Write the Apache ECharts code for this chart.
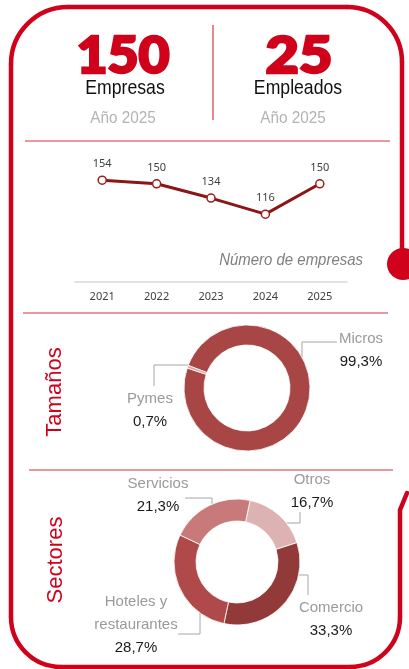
<!DOCTYPE html>
<html>
<head>
<meta charset="utf-8">
<script src="https://cdn.jsdelivr.net/npm/echarts@6/dist/echarts.min.js"></script>
<style>
  html, body { margin: 0; padding: 0; background: #fff; }
  #main { width: 409px; height: 669px; }
</style>
</head>
<body>
<div id="main"></div>
<script>
// KPI header
const kpiValues = ['150', '25'];
const kpiLabels = ['Empresas', 'Empleados'];
const kpiYear = 'Año 2025';

// line chart: number of companies per year
const years = ['2021', '2022', '2023', '2024', '2025'];
const empresas = [154, 150, 134, 116, 150];

// company size donut
const tamanoNames = ['Micros', 'Pymes'];
const tamanoValues = [99.3, 0.7];

// sector donut
const sectorNames = ['Otros', 'Comercio', 'Hoteles y\nrestaurantes', 'Servicios'];
const sectorValues = [16.7, 33.3, 28.7, 21.3];

const RED = '#d0021b';
const SEP = '#e2737e';
const SANS = '"Liberation Sans", Arial, sans-serif';
const HEAVY = '900 51px Lato, "DejaVu Sans", sans-serif';

const pct = v => v.toFixed(1).replace('.', ',') + '%';

// where each donut label sits, and its leader line
const labelSpots = {
  'Micros': { x: 361, y: 350, line: [[302, 357], [302, 342], [337, 342]] },
  'Pymes': { x: 150, y: 410, line: [[188, 365], [154, 365], [154, 386]] },
  'Servicios': { x: 158, y: 495, line: [[212, 504], [212, 498], [185, 498]] },
  'Otros': { x: 312, y: 491, line: [[286, 523], [300, 523], [300, 512]] },
  'Comercio': { x: 331, y: 619, line: [[299, 575], [308, 575], [308, 595]] },
  'Hoteles y\nrestaurantes': { x: 136, y: 625, line: [[200, 613], [200, 634], [178, 634]] }
};

function placeLabel(params) {
  const name = params.seriesIndex === 1 ? tamanoNames[params.dataIndex] : sectorNames[params.dataIndex];
  const s = labelSpots[name];
  return { x: s.x, y: s.y, align: 'center', verticalAlign: 'middle', labelLinePoints: s.line };
}

const pieLabel = {
  show: true,
  position: 'outside',
  formatter: p => '{n|' + p.name + '}\n{v|' + pct(p.value) + '}',
  rich: {
    n: { color: '#9a9a9a', fontSize: 15, fontFamily: SANS, lineHeight: 23, align: 'center' },
    v: { color: '#1a1a1a', fontSize: 15, fontFamily: SANS, lineHeight: 23, align: 'center' }
  }
};
const pieLine = { show: true, lineStyle: { color: '#a6a6a6', width: 1 } };

const chart = echarts.init(document.getElementById('main'), null, { renderer: 'canvas' });

const frameStyle = { fill: 'none', stroke: RED, lineWidth: 4.5, lineCap: 'round' };
const frame = [
  { type: 'line', shape: { x1: 402, y1: 262, x2: 402, y2: 62 } },
  { type: 'arc', shape: { cx: 347, cy: 62, r: 55, startAngle: -Math.PI / 2, endAngle: 0, clockwise: true } },
  { type: 'line', shape: { x1: 347, y1: 7, x2: 68, y2: 7 } },
  { type: 'arc', shape: { cx: 68, cy: 64, r: 57, startAngle: Math.PI, endAngle: Math.PI * 1.5, clockwise: true } },
  { type: 'line', shape: { x1: 11, y1: 64, x2: 11, y2: 617 } },
  { type: 'arc', shape: { cx: 61, cy: 617, r: 50, startAngle: Math.PI / 2, endAngle: Math.PI, clockwise: true } },
  { type: 'line', shape: { x1: 61, y1: 667, x2: 350, y2: 667 } },
  { type: 'arc', shape: { cx: 350, cy: 617, r: 50, startAngle: 0, endAngle: Math.PI / 2, clockwise: true } },
  { type: 'polyline', shape: { points: [[400, 617], [400, 510], [407, 493]] } }
].map(e => Object.assign(e, { style: frameStyle, silent: true }));

// plain text helper, squeezed horizontally to look like a narrow face
function txt(x, y, text, fill, font, scaleX, align) {
  return {
    type: 'text', x: x, y: y, scaleX: scaleX || 1,
    style: { text: text, fill: fill, font: font, align: align || 'center', verticalAlign: 'middle' }
  };
}

// big numbers: thickened with a stroke of the same colour
function bigNum(x, y, text, scaleX) {
  const t = txt(x, y, text, RED, HEAVY, scaleX);
  t.style.stroke = RED;
  t.style.lineWidth = 2.5;
  return t;
}

chart.setOption({
  animation: false,
  grid: { left: 75, right: 62, top: 157, bottom: 387 },
  xAxis: {
    type: 'category',
    data: years,
    axisLine: { lineStyle: { color: '#d9d9d9', width: 1.5 } },
    axisTick: { show: false },
    axisLabel: { color: '#404040', fontSize: 11, fontFamily: '"Noto Sans", sans-serif', margin: 9 }
  },
  yAxis: { type: 'value', min: 40, max: 180, show: false, splitLine: { show: false } },
  series: [
    {
      type: 'line',
      data: empresas,
      symbol: 'circle',
      symbolSize: 8,
      itemStyle: { color: '#fff', borderColor: '#9b1c1c', borderWidth: 1.5 },
      lineStyle: { color: '#8c1515', width: 3 },
      label: {
        show: true, position: 'top', distance: 6,
        color: '#404040', fontSize: 11, fontFamily: '"Noto Sans", sans-serif'
      },
      z: 3
    },
    {
      type: 'pie',
      center: [247, 388],
      radius: [43, 63],
      startAngle: 159,
      clockwise: true,
      avoidLabelOverlap: false,
      data: tamanoNames.map((n, i) => ({ name: n, value: tamanoValues[i] })),
      color: ['#a84646', '#d9a3a3'],
      itemStyle: { borderColor: '#fff', borderWidth: 0.8 },
      label: pieLabel,
      labelLine: pieLine,
      labelLayout: placeLabel
    },
    {
      type: 'pie',
      center: [237, 562],
      radius: [41, 63],
      startAngle: 78,
      clockwise: true,
      avoidLabelOverlap: false,
      data: sectorNames.map((n, i) => ({ name: n, value: sectorValues[i] })),
      color: ['#dcb2b2', '#923a3a', '#b04a4a', '#c87a7a'],
      itemStyle: { borderColor: '#fff', borderWidth: 0.8 },
      label: pieLabel,
      labelLine: pieLine,
      labelLayout: placeLabel
    }
  ],
  graphic: frame.concat([
    { type: 'circle', shape: { cx: 403, cy: 264, r: 16 }, style: { fill: RED } },
    // header
    { type: 'line', shape: { x1: 213, y1: 25, x2: 213, y2: 120 }, style: { stroke: '#d63445', lineWidth: 1.2 } },
    bigNum(123, 57, kpiValues[0], 1.05),
    bigNum(299, 57, kpiValues[1], 1.13),
    txt(125, 88, kpiLabels[0], '#111', '21px ' + SANS, 0.84),
    txt(298, 88, kpiLabels[1], '#111', '21px ' + SANS, 0.84),
    txt(123, 118, kpiYear, '#b3b3b3', '17px ' + SANS, 0.9),
    txt(293, 118, kpiYear, '#b3b3b3', '17px ' + SANS, 0.9),
    // separators
    { type: 'line', shape: { x1: 25, y1: 141, x2: 390, y2: 141 }, style: { stroke: SEP, lineWidth: 1.5 } },
    { type: 'line', shape: { x1: 23, y1: 313, x2: 388, y2: 313 }, style: { stroke: SEP, lineWidth: 1.5 } },
    { type: 'line', shape: { x1: 29, y1: 470, x2: 393, y2: 470 }, style: { stroke: SEP, lineWidth: 1.5 } },
    // captions
    txt(363, 260, 'Número de empresas', '#808080', 'italic 17px ' + SANS, 0.88, 'right'),
    { type: 'text', x: 55, y: 392, rotation: Math.PI / 2, style: { text: 'Tamaños', fill: RED, font: '22px ' + SANS, align: 'center', verticalAlign: 'middle' } },
    { type: 'text', x: 56, y: 560, rotation: Math.PI / 2, style: { text: 'Sectores', fill: RED, font: '22px ' + SANS, align: 'center', verticalAlign: 'middle' } }
  ])
});
</script>
</body>
</html>
